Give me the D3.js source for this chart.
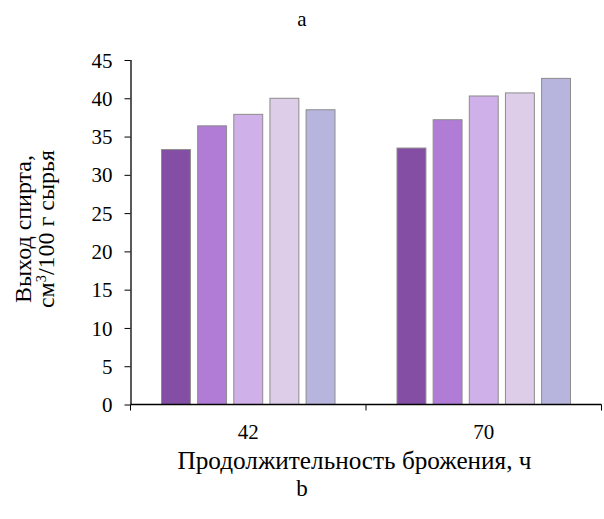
<!DOCTYPE html>
<html>
<head>
<meta charset="utf-8">
<script src="https://cdn.jsdelivr.net/npm/d3@7"></script>
<style>
  body { margin: 0; background: #fff; }
  svg text { font-family: "Times New Roman", serif; fill: #000; }
</style>
</head>
<body>
<div id="plot-container"></div>
<script>
const categories = ['42', '70'];
const seriesNames = ['s1', 's2', 's3', 's4', 's5'];
const seriesColors = ['#854ea5', '#b07cd6', '#cfb0e8', '#ddcde8', '#b7b5de'];
const values42 = [33.3, 36.4, 37.9, 40.0, 38.5];
const values70 = [33.5, 37.2, 40.3, 40.7, 42.6];
const yTicks = [0, 5, 10, 15, 20, 25, 30, 35, 40, 45];

const data = categories.map((c, i) => ({
  cat: c,
  vals: (i === 0 ? values42 : values70).map((v, j) => ({ s: seriesNames[j], v: v }))
}));

const W = 604, H = 519;
const margin = { top: 60, right: 2.5, bottom: 114.5, left: 130.5 };
const width = W - margin.left - margin.right;
const height = H - margin.top - margin.bottom;
const serif = '"Times New Roman", serif';

const svgRoot = d3.select('#plot-container')
  .append('svg')
  .attr('width', W)
  .attr('height', H);

// font size that makes a string span the given width
function sizeFor(str, target) {
  const t = svgRoot.append('text')
    .style('font-family', serif)
    .style('font-size', '20px')
    .text(str);
  const len = t.node().getComputedTextLength();
  t.remove();
  return len > 0 ? 20 * target / len : 20;
}

const svg = svgRoot.append('g')
  .attr('transform', `translate(${margin.left},${margin.top})`);

const x0 = d3.scaleBand()
  .domain(categories)
  .range([0, width])
  .padding(0);

const inset = 31;
const x1 = d3.scaleBand()
  .domain(seriesNames)
  .range([inset, x0.bandwidth() - inset])
  .paddingInner(0.2)
  .paddingOuter(0);

const y = d3.scaleLinear()
  .domain([0, 45])
  .range([height, 0]);

const color = d3.scaleOrdinal().domain(seriesNames).range(seriesColors);

// bars
const groups = svg.selectAll('g.grp')
  .data(data)
  .enter()
  .append('g')
  .attr('class', 'grp')
  .attr('transform', d => `translate(${x0(d.cat)},0)`);

groups.selectAll('rect')
  .data(d => d.vals)
  .enter()
  .append('rect')
  .attr('x', d => x1(d.s))
  .attr('y', d => y(d.v))
  .attr('width', x1.bandwidth())
  .attr('height', d => height - y(d.v))
  .attr('fill', d => color(d.s))
  .attr('stroke', '#8c8c8c')
  .attr('stroke-width', 1);

// y axis
const yAxis = svg.append('g')
  .call(d3.axisLeft(y).tickValues(yTicks).tickSize(6).tickPadding(12));
yAxis.attr('font-family', null).attr('font-size', null);
yAxis.selectAll('text').style('font-size', '21px').attr('dy', '0.34em');
yAxis.selectAll('line').attr('stroke', '#000');
yAxis.select('.domain').attr('d', `M0.5,0V${height}`).attr('stroke', '#000').attr('stroke-width', 1.3);

// x axis: ticks at category boundaries
const xAxisG = svg.append('g')
  .attr('transform', `translate(0,${height})`);
xAxisG.append('line')
  .attr('x1', 0).attr('x2', width)
  .attr('stroke', '#000').attr('stroke-width', 1.3);
const bounds = categories.map(c => x0(c)).concat([width]);
xAxisG.selectAll('line.tk')
  .data(bounds)
  .enter()
  .append('line')
  .attr('class', 'tk')
  .attr('x1', d => d).attr('x2', d => d)
  .attr('y1', 0).attr('y2', 6)
  .attr('stroke', '#000');
xAxisG.selectAll('text')
  .data(categories)
  .enter()
  .append('text')
  .attr('x', d => x0(d) + x0.bandwidth() / 2)
  .attr('y', 34)
  .attr('text-anchor', 'middle')
  .style('font-size', '21px')
  .text(d => d);

// axis titles
const xTitleText = 'Продолжительность брожения, ч';
svg.append('text')
  .attr('x', 224)
  .attr('y', height + 64)
  .attr('text-anchor', 'middle')
  .style('font-size', sizeFor(xTitleText, 354).toFixed(2) + 'px')
  .text(xTitleText);

const yLine1Text = 'Выход спирта,';
const ySize = sizeFor(yLine1Text, 148);
const yTitle = svgRoot.append('text')
  .attr('transform', 'translate(0,229) rotate(-90)')
  .attr('text-anchor', 'middle')
  .style('font-size', ySize.toFixed(2) + 'px');
yTitle.append('tspan').attr('x', 0).attr('y', 31).text(yLine1Text);
yTitle.append('tspan').attr('x', 0).attr('y', 54)
  .text('см')
  .append('tspan').attr('dy', -8).style('font-size', (ySize * 0.6).toFixed(2) + 'px').text('3');
yTitle.append('tspan').attr('dy', 8).text('/100 г сырья');

// panel labels
svgRoot.append('text')
  .attr('x', 302).attr('y', 26)
  .attr('text-anchor', 'middle')
  .style('font-size', '21px')
  .text('a');
svgRoot.append('text')
  .attr('x', 302).attr('y', 496)
  .attr('text-anchor', 'middle')
  .style('font-size', '23px')
  .text('b');

svgRoot.selectAll('text').style('font-family', serif);
</script>
</body>
</html>
